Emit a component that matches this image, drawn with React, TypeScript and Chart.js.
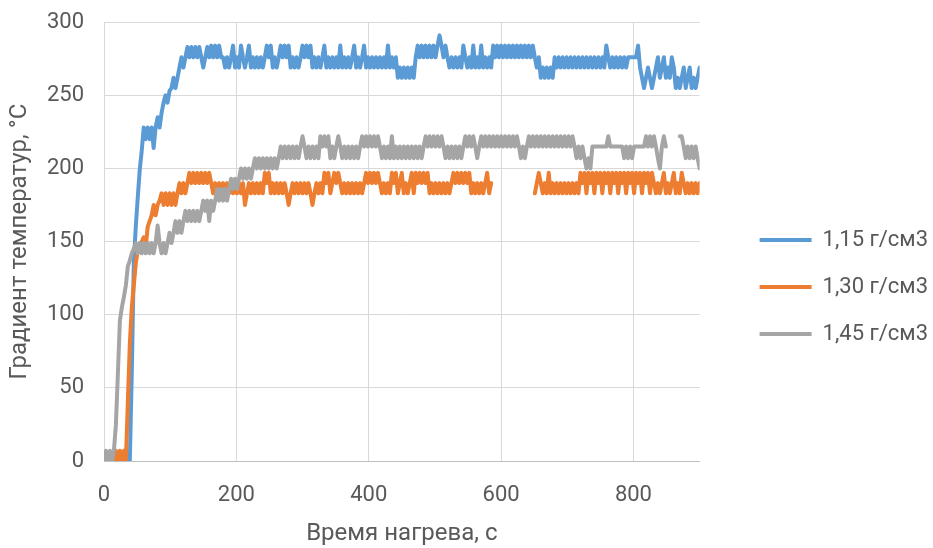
import React, { useEffect, useRef } from "react";
import { Chart, registerables } from "chart.js";

Chart.register(...registerables);

// Sampling interval of the logged gradient, seconds
const sampleStep = 3;

// Temperature gradient, °C; one row = 30 s (10 samples), last value at 900 s
const density115: (number | null)[] = [
  0, 0, 0, 0, 0, 0, 0, 0, 0, 0,
  0, 0, 0, 0, 60, 135, 160, 180, 199, 212,
  228, 220, 228, 220, 228, 214, 228, 235, 228, 238,
  245, 250, 245, 253, 255, 262, 255, 262, 269, 276,
  269, 276, 283, 276, 283, 276, 283, 276, 283, 276,
  269, 276, 283, 276, 284, 276, 284, 276, 284, 276,
  276, 269, 276, 269, 276, 284, 269, 276, 269, 284,
  276, 269, 276, 284, 269, 276, 269, 276, 269, 276,
  269, 276, 284, 276, 284, 269, 276, 269, 276, 284,
  276, 284, 276, 284, 269, 276, 269, 276, 269, 276,
  284, 276, 284, 276, 284, 269, 276, 269, 276, 269,
  276, 284, 269, 276, 269, 276, 269, 276, 269, 284,
  269, 276, 269, 276, 269, 276, 284, 269, 276, 269,
  276, 284, 269, 276, 269, 276, 269, 276, 269, 276,
  269, 276, 269, 284, 269, 276, 269, 276, 262, 269,
  262, 269, 262, 269, 262, 269, 262, 276, 284, 276,
  284, 276, 284, 276, 284, 276, 284, 276, 284, 291,
  284, 276, 284, 276, 269, 276, 269, 276, 269, 276,
  269, 284, 276, 269, 276, 269, 284, 269, 276, 269,
  284, 269, 276, 269, 276, 269, 284, 276, 284, 276,
  284, 276, 284, 276, 284, 276, 284, 276, 284, 276,
  284, 276, 284, 276, 284, 276, 284, 276, 269, 276,
  262, 269, 262, 269, 262, 269, 262, 276, 269, 276,
  269, 276, 269, 276, 269, 276, 269, 276, 269, 276,
  269, 276, 269, 276, 269, 276, 269, 276, 269, 276,
  269, 276, 269, 284, 276, 269, 276, 269, 276, 269,
  276, 269, 276, 269, 276, 276, 276, 276, 276, 284,
  269, 262, 255, 262, 269, 262, 255, 262, 269, 276,
  262, 269, 276, 262, 269, 262, 276, 269, 255, 262,
  255, 262, 269, 255, 262, 269, 255, 262, 255, 262,
  269,
];

const density130: (number | null)[] = [
  0, 0, 0, 0, 0, 0, 7, 0, 7, 0,
  7, 0, 40, 80, 105, 120, 135, 144, 146, 150,
  153, 146, 160, 164, 168, 175, 168, 175, 178, 183,
  175, 183, 175, 183, 175, 183, 175, 183, 190, 183,
  190, 183, 190, 197, 190, 197, 190, 197, 190, 197,
  190, 197, 190, 197, 190, 183, 190, 183, 190, 183,
  190, 183, 190, 183, 190, 183, 190, 183, 190, 183,
  190, 175, 183, 190, 183, 190, 183, 190, 183, 190,
  183, 197, 190, 197, 183, 190, 183, 190, 183, 190,
  183, 190, 183, 175, 183, 190, 183, 190, 183, 190,
  183, 190, 183, 190, 183, 175, 183, 190, 183, 190,
  183, 197, 190, 197, 183, 190, 197, 190, 197, 190,
  183, 190, 183, 190, 183, 190, 183, 190, 183, 190,
  183, 190, 197, 190, 197, 190, 197, 190, 197, 190,
  183, 190, 183, 190, 183, 197, 190, 197, 183, 190,
  197, 183, 190, 183, 190, 197, 183, 197, 190, 197,
  190, 197, 190, 197, 183, 190, 183, 190, 183, 190,
  183, 190, 183, 190, 183, 190, 197, 190, 197, 190,
  197, 190, 197, 190, 197, 183, 190, 183, 190, 183,
  190, 183, 190, 197, 183, 190, null, null, null, null,
  null, null, null, null, null, null, null, null, null, null,
  null, null, null, null, null, null, null, 183, 190, 197,
  190, 183, 190, 183, 197, 183, 190, 183, 190, 183,
  190, 183, 190, 183, 190, 183, 190, 183, 190, 183,
  197, 190, 197, 183, 197, 190, 197, 183, 197, 190,
  197, 183, 197, 190, 197, 183, 197, 190, 197, 183,
  197, 190, 197, 183, 197, 190, 197, 183, 197, 190,
  197, 183, 197, 190, 197, 183, 197, 190, 183, 190,
  183, 190, 197, 183, 190, 183, 190, 197, 183, 190,
  183, 197, 190, 183, 190, 183, 190, 183, 190, 183,
  190,
];

const density145: (number | null)[] = [
  0, 7, 0, 7, 0, 7, 25, 60, 96, 105,
  112, 120, 133, 137, 142, 145, 149, 142, 149, 142,
  149, 142, 149, 142, 149, 142, 149, 161, 149, 142,
  149, 142, 149, 156, 149, 156, 164, 156, 164, 156,
  164, 171, 164, 171, 164, 171, 164, 171, 164, 171,
  178, 171, 178, 164, 178, 171, 178, 186, 178, 186,
  178, 186, 178, 186, 193, 186, 193, 186, 193, 200,
  193, 200, 193, 200, 193, 200, 207, 200, 207, 200,
  207, 200, 207, 200, 207, 200, 207, 200, 207, 215,
  207, 215, 207, 215, 207, 215, 207, 215, 207, 215,
  222, 215, 207, 215, 207, 215, 207, 215, 207, 222,
  215, 222, 215, 222, 207, 215, 207, 215, 222, 215,
  207, 215, 207, 215, 207, 215, 207, 215, 207, 215,
  222, 215, 222, 215, 222, 215, 222, 215, 222, 215,
  207, 215, 207, 215, 207, 222, 207, 215, 207, 215,
  207, 215, 207, 215, 207, 215, 207, 215, 207, 215,
  207, 215, 222, 215, 222, 215, 222, 215, 222, 215,
  222, 215, 207, 215, 207, 215, 207, 215, 207, 215,
  207, 215, 222, 215, 222, 215, 222, 215, 207, 215,
  222, 215, 222, 215, 222, 215, 222, 215, 222, 215,
  222, 215, 222, 215, 222, 215, 222, 215, 222, 215,
  207, 215, 207, 215, 222, 215, 222, 215, 222, 215,
  222, 215, 222, 215, 222, 215, 222, 215, 222, 215,
  222, 215, 222, 215, 222, 215, 222, 215, 207, 215,
  207, 215, 207, 200, 207, 200, 215, 215, 215, 215,
  215, 215, 215, 215, 222, 215, 215, 215, 215, 215,
  215, 215, 207, 215, 207, 215, 207, 215, 215, 215,
  215, 215, 215, 222, 215, 222, 215, 222, 215, 207,
  200, 215, 222, 215, null, null, null, null, null, null,
  222, 222, 215, 207, 215, 207, 215, 207, 215, 207,
  200,
];

const seriesLabels = ["1,15 г/см3", "1,30 г/см3", "1,45 г/см3"];
const seriesColors = ["#5B9BD5", "#ED7D31", "#A5A5A5"];
const xTicks = [0, 200, 400, 600, 800];
const yTicks = [0, 50, 100, 150, 200, 250, 300];

const textColor = "#595959";
const gridColor = "#d9d9d9";
const fontFamily = "Roboto, 'Noto Sans', sans-serif";

const toPoints = (values: (number | null)[]) =>
  values.map((v, i) => ({ x: i * sampleStep, y: v }));

export default function App() {
  const canvasRef = useRef<HTMLCanvasElement | null>(null);

  useEffect(() => {
    const canvas = canvasRef.current;
    if (!canvas) return;

    const series = [density115, density130, density145];
    // later series are drawn over earlier ones
    const drawOrder = [3, 2, 1];

    const chart = new Chart(canvas, {
      type: "line",
      data: {
        datasets: series.map((values, i) => ({
          label: seriesLabels[i],
          data: toPoints(values),
          borderColor: seriesColors[i],
          backgroundColor: seriesColors[i],
          borderWidth: 4,
          pointRadius: 0,
          pointHoverRadius: 0,
          tension: 0,
          spanGaps: false,
          borderJoinStyle: "round" as const,
          borderCapStyle: "round" as const,
          order: drawOrder[i],
          yAxisID: "y",
        })),
      },
      options: {
        animation: false,
        responsive: true,
        maintainAspectRatio: false,
        layout: { padding: { left: 0, right: -5, top: 12, bottom: 0 } },
        plugins: {
          tooltip: { enabled: false },
          legend: {
            position: "right",
            align: "center",
            title: { display: true, text: " ", font: { size: 10 }, padding: 1 },
            labels: {
              usePointStyle: true,
              pointStyle: "line",
              pointStyleWidth: 52,
              boxHeight: 22,
              padding: 25,
              color: textColor,
              font: { family: fontFamily, size: 22 },
              sort: (a: any, b: any) => a.datasetIndex - b.datasetIndex,
            },
          },
        },
        scales: {
          x: {
            type: "linear",
            min: 0,
            max: 900,
            afterBuildTicks: (scale: any) => {
              scale.ticks = xTicks.map((value) => ({ value }));
            },
            afterFit: (scale: any) => {
              scale.height = 87;
            },
            grid: { color: gridColor, drawTicks: false },
            border: { display: true, color: "#bfbfbf", width: 1 },
            ticks: {
              color: textColor,
              padding: 21,
              maxRotation: 0,
              font: { family: fontFamily, size: 22 },
            },
            title: {
              display: true,
              text: "Время нагрева, с",
              color: textColor,
              font: { family: fontFamily, size: 24 },
              padding: { top: 0, bottom: 0 },
            },
          },
          y: {
            type: "linear",
            position: "left",
            min: 0,
            max: 300,
            afterBuildTicks: (scale: any) => {
              scale.ticks = yTicks.map((value) => ({ value }));
            },
            afterFit: (scale: any) => {
              scale.width = 104;
            },
            grid: {
              color: (ctx: any) => (ctx.tick && ctx.tick.value === 0 ? "#bfbfbf" : gridColor),
              drawTicks: true,
              tickLength: 11,
              tickColor: "rgba(0,0,0,0)",
            },
            border: { display: false },
            ticks: {
              color: textColor,
              padding: 9,
              font: { family: fontFamily, size: 22 },
            },
            title: {
              display: true,
              text: "Градиент температур, °С",
              color: textColor,
              font: { family: fontFamily, size: 24 },
              padding: { top: 6, bottom: 0 },
            },
          },
          // hidden box that keeps the legend apart from the plot
          gap: {
            type: "linear",
            position: "right",
            display: false,
            min: 0,
            max: 1,
            afterFit: (scale: any) => {
              scale.width = 35;
            },
          },
        },
      },
    });

    return () => chart.destroy();
  }, []);

  return (
    <div style={{ position: "fixed", left: 0, top: 0, width: 933, height: 548, background: "#fff" }}>
      <canvas ref={canvasRef} />
    </div>
  );
}
